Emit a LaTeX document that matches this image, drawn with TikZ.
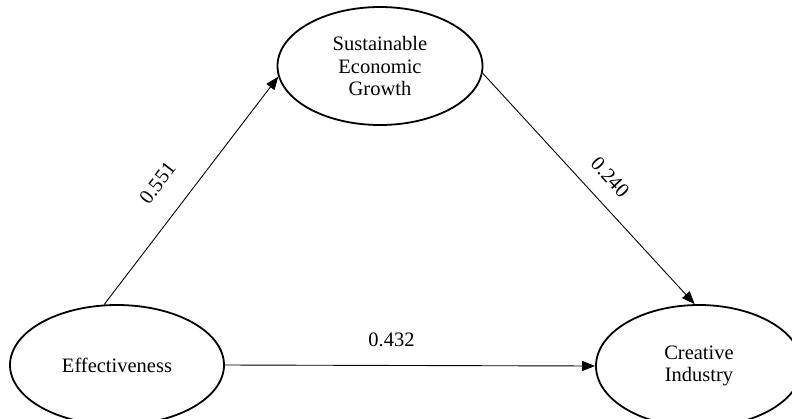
\documentclass[tikz,border=0pt]{standalone}
\usepackage{fontspec}
\setmainfont{Liberation Serif}
\usetikzlibrary{shapes.geometric,arrows.meta}
\begin{document}
\begin{tikzpicture}[x=1pt,y=-1pt,
  construct/.style={draw, line width=1.8pt, ellipse, inner sep=0pt, align=center,
    font=\fontsize{20.5}{22.5}\selectfont},
  path/.style={line width=0.9pt, -{Triangle[length=13pt,width=10pt]}},
  coef/.style={font=\fontsize{20.5}{22.5}\selectfont, inner sep=0pt}]
\useasboundingbox (0,0) rectangle (792,418);
\clip (0,0) rectangle (792,418);
\node[construct, minimum width=205pt, minimum height=118pt] (seg) at (380,66) {Sustainable\\Economic\\Growth};
\node[construct, minimum width=214pt, minimum height=120pt] (eff) at (117,365) {Effectiveness};
\node[construct, minimum width=206pt, minimum height=122pt] (ci) at (699,366) {Creative\\Industry};
\draw[path] (eff.102) -- node[coef, sloped, pos=0.45, above=24pt] {0.551} (seg.186);
\draw[path] (seg.-4) -- node[coef, sloped, pos=0.52, above=16pt] {0.240} (ci.94);
\draw[path] (eff.east) -- node[coef, pos=0.45, above=18pt] {0.432} (ci.west);
\end{tikzpicture}
\end{document}
